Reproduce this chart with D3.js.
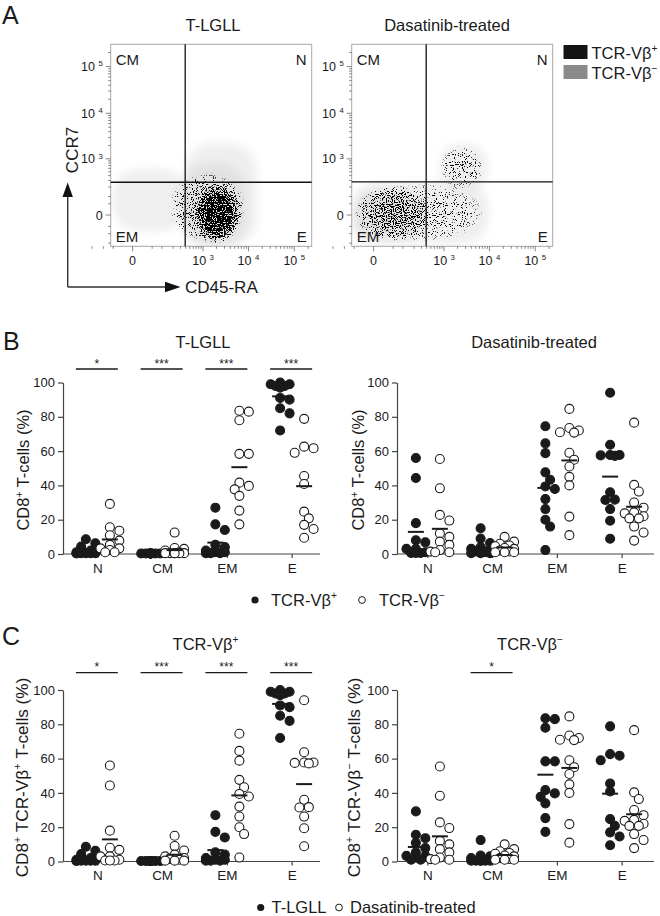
<!DOCTYPE html>
<html>
<head>
<meta charset="utf-8">
<script src="https://cdn.jsdelivr.net/npm/d3@7"></script>
<style>
body{margin:0;background:#fff}
text{font-family:"Liberation Sans",Arial,Helvetica,sans-serif;fill:#1a1a1a}
</style>
</head>
<body>
<svg width="660" height="916"></svg>
<script>
// ---------- data ----------
var subsets = ["N", "CM", "EM", "E"];
var yTicks = [0, 20, 40, 60, 80, 100];

// % of CD8+ T-cells per patient, rows follow subsets (N, CM, EM, E)
var lgllPos = [
  [8.6, 6.2, 4.3, 2, 1, 1, 0.5, 0.5, 0.5, 0.5, 0.3],
  [0.3, 0.3, 0.3, 0.3, 0.3, 0.3, 0.3, 0.3, 0.3, 0.3, 0.3],
  [27, 17.3, 14, 5.3, 4, 2, 1, 1, 0.5, 0.5, 0.5],
  [100, 99, 99, 98, 98, 97, 91, 90, 85, 82, 72]
];
var lgllNeg = [
  [29.2, 15.6, 13.6, 10.9, 7.8, 5.3, 3.3, 3.3, 2.3, 1, 1],
  [12.5, 3.5, 3, 2, 1, 0.5, 0.5, 0.5, 0.5, 0.5, 0.5],
  [83.5, 83, 78, 58.4, 58.4, 41.6, 39.7, 37.7, 33.9, 25.3, 17.3],
  [78.8, 62.6, 61.7, 59, 45.5, 40.8, 24.7, 20.8, 17, 14.6, 9.5]
];
var dasaPos = [
  [56, 44.3, 18, 8, 6.8, 3, 3, 1, 0.6, 0.6, 0.6],
  [15, 9, 6.4, 4, 3, 2, 1.5, 1, 0.5, 0.5, 0.5],
  [74.5, 64.5, 58.8, 47.6, 43.3, 39.4, 37.9, 32, 26.2, 20, 16, 2.3],
  [94, 63.7, 57.7, 57.5, 57.7, 57.2, 36, 31.5, 31.7, 26.2, 19.4, 8.9]
];
var dasaNeg = [
  [55.4, 38.3, 22.8, 19.5, 12, 10, 7.2, 5.3, 2.3, 1, 1, 1.4],
  [10, 7.2, 6, 5, 4.5, 3.5, 3, 2, 1.5, 1, 1, 1],
  [84.6, 73.5, 72, 71, 70.8, 59, 55, 51, 45, 40, 21.8, 11],
  [76.6, 40.3, 36.4, 30, 27, 24.3, 23.7, 22, 20.8, 20.8, 16, 12.5, 7.8]
];
var sigB = ["*", "***", "***", "***"];
var sigCpos = ["*", "***", "***", "***"];
var sigCneg = ["", "*", "", ""];

// flow populations: [CD45-RA low, high, CCR7 low, high, density]
var lgllNegBlobs = [
  [-48, 400, -80, 580, 0.3],
  [380, 15500, -245, 2300, 0.3],
  [300, 9000, -245, 800, 0.45]
];
var lgllPosBlobs = [
  [-45, 16000, -150, 2000, 0.12],
  [150, 10000, -245, 500, 0.4],
  [600, 7000, -210, 260, 1],
  [900, 5000, -160, 160, 1]
];
var dasaNegBlobs = [
  [-58, 9500, -210, 260, 0.3],
  [800, 9000, 140, 2100, 0.3],
  [-50, 350, -160, 170, 0.45]
];
var dasaPosBlobs = [
  [-58, 12000, -240, 320, 0.36],
  [-55, 450, -190, 230, 0.5],
  [700, 9000, 150, 2300, 0.34]
];
var gateLgll = [390, 270];
var gateDasa = [390, 275];
var flowMajor = [0, 1e3, 1e4, 1e5];
var flowMinor = [-200, -100, -50, 50, 100].concat(
  d3.merge([100, 1000, 10000].map(function(d){ return d3.range(2, 10).map(function(k){ return k * d; }); })),
  [2e5]);

// ---------- helpers ----------
var svg = d3.select("svg");
var defs = svg.append("defs");
var ink = "#1a1a1a";

function rich(t, parts, fs) {
  var up = false;
  parts.forEach(function(p) {
    var sup = p.charAt(0) === "^";
    var ts = t.append("tspan").text(sup ? p.slice(1) : p);
    if (sup) {
      ts.attr("font-size", fs * 0.62);
      if (!up) ts.attr("dy", -fs * 0.38);
      up = true;
    } else {
      if (up) ts.attr("dy", fs * 0.38);
      up = false;
    }
  });
  return t;
}

function label(x, y, parts, fs, anchor, rot) {
  var t = svg.append("text").attr("font-size", fs).attr("text-anchor", anchor || "start");
  if (rot) t.attr("transform", "translate(" + x + "," + y + ") rotate(" + rot + ")");
  else t.attr("x", x).attr("y", y);
  return rich(t, parts, fs);
}

// soft gray filter and stipple filter for flow plots
defs.append("filter").attr("id", "soft").attr("x", "-20%").attr("y", "-20%").attr("width", "140%").attr("height", "140%")
  .append("feGaussianBlur").attr("stdDeviation", 4.5);

var st = defs.append("filter").attr("id", "stip")
  .attr("filterUnits", "userSpaceOnUse")
  .attr("x", 0).attr("y", 0).attr("width", 660).attr("height", 300)
  .attr("color-interpolation-filters", "sRGB");
st.append("feTurbulence").attr("type", "fractalNoise").attr("baseFrequency", 0.9)
  .attr("numOctaves", 1).attr("seed", 11).attr("result", "n");
st.append("feColorMatrix").attr("in", "n").attr("type", "matrix")
  .attr("values", "0 0 0 0 0  0 0 0 0 0  0 0 0 0 0  3.2 0 0 0 -1.1").attr("result", "na");
st.append("feComposite").attr("in", "SourceAlpha").attr("in2", "na")
  .attr("operator", "arithmetic").attr("k1", 0).attr("k2", 8).attr("k3", 8).attr("k4", -8.9);

var rg = defs.append("radialGradient").attr("id", "blob");
rg.append("stop").attr("offset", "0%").attr("stop-color", "#000").attr("stop-opacity", 1);
rg.append("stop").attr("offset", "45%").attr("stop-color", "#000").attr("stop-opacity", 0.85);
rg.append("stop").attr("offset", "80%").attr("stop-color", "#000").attr("stop-opacity", 0.5);
rg.append("stop").attr("offset", "100%").attr("stop-color", "#000").attr("stop-opacity", 0);

var grayShade = d3.scaleLinear().domain([0, 1]).range(["#ffffff", "#a8a8a8"]);

// ---------- panel A: flow plots ----------
function flowPlot(bx, by, title, titleX, negBlobs, posBlobs, gate, id) {
  var W = 201, H = 202;
  var x = d3.scaleSymlog().constant(30).domain([-60, 2.4e5]).range([bx, bx + W]);
  var y = d3.scaleSymlog().constant(67).domain([-245, 3e5]).range([by + H, by]);

  defs.append("clipPath").attr("id", "clip" + id)
    .append("rect").attr("x", bx).attr("y", by).attr("width", W).attr("height", H);

  var g = svg.append("g").attr("clip-path", "url(#clip" + id + ")");
  g.append("g").attr("filter", "url(#soft)")
    .selectAll("rect").data(negBlobs).join("rect")
    .attr("x", function(d){ return x(d[0]); })
    .attr("width", function(d){ return x(d[1]) - x(d[0]); })
    .attr("y", function(d){ return y(d[3]); })
    .attr("height", function(d){ return y(d[2]) - y(d[3]); })
    .attr("rx", function(d){ return Math.min(x(d[1]) - x(d[0]), y(d[2]) - y(d[3])) * 0.4; })
    .attr("fill", function(d){ return grayShade(d[4]); })
    .attr("fill-opacity", 0.6);

  g.append("g").attr("filter", "url(#stip)")
    .selectAll("ellipse").data(posBlobs).join("ellipse")
    .attr("cx", function(d){ return (x(d[0]) + x(d[1])) / 2; })
    .attr("cy", function(d){ return (y(d[2]) + y(d[3])) / 2; })
    .attr("rx", function(d){ return (x(d[1]) - x(d[0])) / 2; })
    .attr("ry", function(d){ return (y(d[2]) - y(d[3])) / 2; })
    .attr("fill", "url(#blob)")
    .attr("fill-opacity", function(d){ return d[4]; });

  // box
  svg.append("rect").attr("x", bx).attr("y", by).attr("width", W).attr("height", H)
    .attr("fill", "none").attr("stroke", "#a8a8a8").attr("stroke-width", 1);

  // gates
  svg.append("line").attr("x1", x(gate[0])).attr("x2", x(gate[0])).attr("y1", by).attr("y2", by + H)
    .attr("stroke", "#111").attr("stroke-width", 1.3);
  svg.append("line").attr("x1", bx).attr("x2", bx + W).attr("y1", y(gate[1])).attr("y2", y(gate[1]))
    .attr("stroke", "#111").attr("stroke-width", 1.3);

  // ticks
  var tk = svg.append("g").attr("stroke", "#666").attr("stroke-width", 0.8);
  flowMinor.forEach(function(v) {
    tk.append("line").attr("x1", x(v)).attr("x2", x(v)).attr("y1", by + H).attr("y2", by + H + 2.5);
    tk.append("line").attr("y1", y(v)).attr("y2", y(v)).attr("x1", bx).attr("x2", bx - 2.5);
  });
  flowMajor.forEach(function(v) {
    tk.append("line").attr("x1", x(v)).attr("x2", x(v)).attr("y1", by + H).attr("y2", by + H + 5);
    tk.append("line").attr("y1", y(v)).attr("y2", y(v)).attr("x1", bx).attr("x2", bx - 5);
  });
  flowMajor.forEach(function(v) {
    var parts = v === 0 ? ["0"] : ["10 ", "^" + Math.round(Math.log10(v))];
    label(x(v), by + H + 18.5, parts, 12.5, "middle");
    label(bx - 8, y(v) + 4.5, parts, 12.5, "end");
  });

  // quadrant names
  label(bx + 5, by + 20.5, ["CM"], 15);
  label(bx + W - 5, by + 20.5, ["N"], 15, "end");
  label(bx + 5, by + H - 4.5, ["EM"], 15);
  label(bx + W - 5, by + H - 4.5, ["E"], 15, "end");

  label(titleX, 30.5, [title], 16.5, "middle");
}

flowPlot(110.7, 44.3, "T-LGLL", 213, lgllNegBlobs, lgllPosBlobs, gateLgll, "L");
flowPlot(351.7, 44.3, "Dasatinib-treated", 447, dasaNegBlobs, dasaPosBlobs, gateDasa, "D");

// axis arrows
svg.append("path").attr("d", "M67.7,287V195M67.7,287H167").attr("fill", "none")
  .attr("stroke", "#333").attr("stroke-width", 1.4);
svg.append("path").attr("d", "M67.7,182.5L62.5,197H72.9Z").attr("fill", "#111");
svg.append("path").attr("d", "M180.5,287L165,281.8V292.2Z").attr("fill", "#111");
label(77.5, 150, ["CCR7"], 17, "middle", -90);
label(185, 293, ["CD45-RA"], 17);

// flow legend
svg.append("rect").attr("x", 563.5).attr("y", 45).attr("width", 24).attr("height", 14).attr("fill", "#141414");
svg.append("rect").attr("x", 563.5).attr("y", 65).attr("width", 24).attr("height", 14).attr("fill", "#8a8a8a");
label(591.5, 58.5, ["TCR-Vβ", "^+"], 16.5);
label(591.5, 78.5, ["TCR-Vβ", "^−"], 16.5);

// ---------- panels B & C: dot plots ----------
function swarm(vals, cx, y, r) {
  var placed = [];
  var order = vals.map(function(v){ return {v: v}; }).sort(function(a, b){ return b.v - a.v; });
  var step = r * 1.05, cands = [0, 1, -1, 2, -2];
  order.forEach(function(d) {
    d.py = y(d.v);
    var best = cx, bestScore = -1;
    for (var i = 0; i < cands.length; i++) {
      var px = cx + cands[i] * step, mind = Infinity;
      placed.forEach(function(p){ mind = Math.min(mind, Math.hypot(p.px - px, p.py - d.py)); });
      if (mind >= 1.75 * r) { best = px; break; }
      if (mind > bestScore) { bestScore = mind; best = px; }
    }
    d.px = best;
    placed.push(d);
  });
  return placed;
}

function dotPanel(o) {
  var y = d3.scaleLinear().domain([0, 100]).range([o.y0, o.y0 - 171.5]);
  var xb = d3.scaleBand().domain(subsets).range([o.bandStart, o.bandStart + 259]);
  var g = svg.append("g");

  var ya = g.append("g").attr("transform", "translate(" + o.axisX + ",0)")
    .call(d3.axisLeft(y).tickValues(yTicks).tickSize(5).tickSizeOuter(0).tickPadding(3));
  ya.select(".domain").attr("stroke", "#444").attr("stroke-width", 1.2);
  ya.selectAll(".tick line").attr("stroke", "#444").attr("stroke-width", 1.2);
  ya.selectAll(".tick text").attr("font-size", 13).attr("font-family", null).attr("fill", ink);

  var xa = g.append("g").attr("transform", "translate(0," + o.y0 + ")")
    .call(d3.axisBottom(xb).tickSize(4).tickSizeOuter(0).tickPadding(5));
  xa.select(".domain").remove();
  xa.selectAll(".tick line").attr("stroke", "#444").attr("stroke-width", 1.2);
  xa.selectAll(".tick text").attr("font-size", 13.5).attr("font-family", null).attr("fill", ink);
  g.append("line").attr("x1", o.axisX).attr("x2", o.axisX + 257).attr("y1", o.y0).attr("y2", o.y0)
    .attr("stroke", "#444").attr("stroke-width", 1.2);

  var r = 4.5;
  [[o.filled, -12, ink, ink], [o.open, 12, "#fff", ink]].forEach(function(s) {
    subsets.forEach(function(c, i) {
      var cx = xb(c) + xb.bandwidth() / 2 + s[1];
      var pts = swarm(s[0][i], cx, y, r);
      g.append("g").selectAll("circle").data(pts).join("circle")
        .attr("cx", function(d){ return d.px; })
        .attr("cy", function(d){ return d.py; })
        .attr("r", r)
        .attr("fill", s[2]).attr("stroke", s[3]).attr("stroke-width", 1.1);
    });
  });
  [[o.filled, -12], [o.open, 12]].forEach(function(s) {
    subsets.forEach(function(c, i) {
      var cx = xb(c) + xb.bandwidth() / 2 + s[1];
      var m = y(d3.mean(s[0][i]));
      g.append("line").attr("x1", cx - 8).attr("x2", cx + 8).attr("y1", m).attr("y2", m)
        .attr("stroke", ink).attr("stroke-width", 2);
    });
  });

  if (o.sig) {
    subsets.forEach(function(c, i) {
      if (!o.sig[i]) return;
      var cx = xb(c) + xb.bandwidth() / 2;
      g.append("line").attr("x1", cx - 22).attr("x2", cx + 20).attr("y1", o.sigY).attr("y2", o.sigY)
        .attr("stroke", ink).attr("stroke-width", 1.3);
      label(cx - 1, o.sigY - 1.5, [o.sig[i]], 12, "middle");
    });
  }

  label(o.titleX, o.titleY, o.title, 16.5, "middle");
  label(o.labelX, o.y0 - 84, o.ylabel, o.labelSize, "middle", -90);
}

dotPanel({axisX: 63, bandStart: 65.5, y0: 554, filled: lgllPos, open: lgllNeg, sig: sigB, sigY: 369,
  title: ["T-LGLL"], titleX: 203, titleY: 348,
  ylabel: ["CD8", "^+", " T-cells (%)"], labelX: 29, labelSize: 16.5});
dotPanel({axisX: 397, bandStart: 395.5, y0: 554, filled: dasaPos, open: dasaNeg, sig: null,
  title: ["Dasatinib-treated"], titleX: 534, titleY: 348,
  ylabel: ["CD8", "^+", " T-cells (%)"], labelX: 364, labelSize: 16.5});
dotPanel({axisX: 63, bandStart: 65.5, y0: 861.5, filled: lgllPos, open: dasaPos, sig: sigCpos, sigY: 672.7,
  title: ["TCR-Vβ", "^+"], titleX: 205.5, titleY: 649.5,
  ylabel: ["CD8", "^+", " TCR-Vβ", "^+", " T-cells (%)"], labelX: 28, labelSize: 17.2});
dotPanel({axisX: 397, bandStart: 395.5, y0: 861.5, filled: lgllNeg, open: dasaNeg, sig: sigCneg, sigY: 672.7,
  title: ["TCR-Vβ", "^−"], titleX: 530, titleY: 649.5,
  ylabel: ["CD8", "^+", " TCR-Vβ", "^−", " T-cells (%)"], labelX: 359.5, labelSize: 17.2});

// legends
svg.append("circle").attr("cx", 255).attr("cy", 600).attr("r", 3.6).attr("fill", ink);
label(271, 605.5, ["TCR-Vβ", "^+"], 16.5);
svg.append("circle").attr("cx", 362).attr("cy", 600).attr("r", 3.4).attr("fill", "#fff").attr("stroke", ink).attr("stroke-width", 1);
label(379, 605.5, ["TCR-Vβ", "^−"], 16.5);

svg.append("circle").attr("cx", 260.7).attr("cy", 907.5).attr("r", 3.6).attr("fill", ink);
label(271.5, 912.5, ["T-LGLL"], 16.5);
svg.append("circle").attr("cx", 339).attr("cy", 907.5).attr("r", 3.4).attr("fill", "#fff").attr("stroke", ink).attr("stroke-width", 1);
label(350, 912.5, ["Dasatinib-treated"], 16.5);

// panel letters
label(2, 23.5, ["A"], 25);
label(3, 350, ["B"], 25);
label(2, 645, ["C"], 25);
</script>
</body>
</html>
